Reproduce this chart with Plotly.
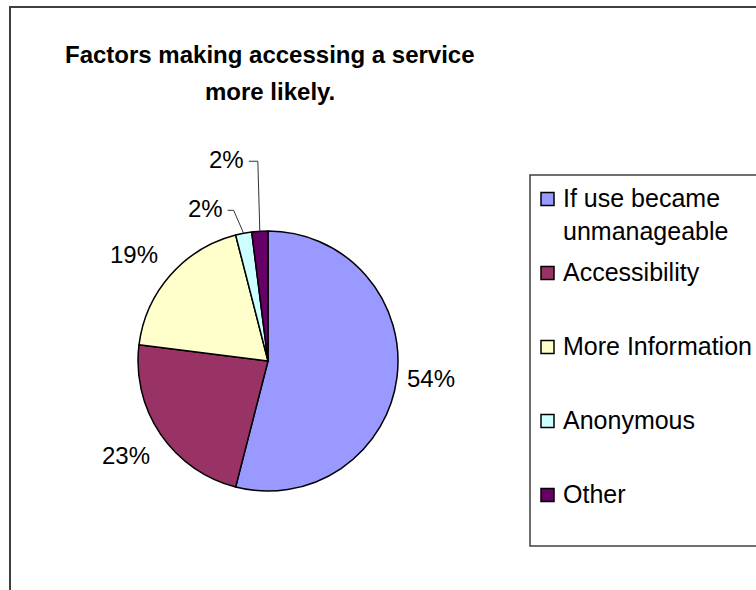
import math
import plotly.graph_objects as go

# ---- data ----
categories = ["If use became unmanageable", "Accessibility", "More Information", "Anonymous", "Other"]
legend_text = ["If use became<br>unmanageable", "Accessibility", "More Information", "Anonymous", "Other"]
percent = [54, 23, 19, 2, 2]
slice_colors = ["#9999FF", "#993366", "#FFFFCC", "#CCFFFF", "#660066"]
title_lines = ["Factors making accessing a service", "more likely."]

# ---- canvas geometry (pixels) ----
W, H = 756, 590
CX, CY, R = 268, 361, 130
FONT = "Arial, Liberation Sans, sans-serif"


def px(x):
    return x / W


def py(y):
    return 1 - y / H


def edge(angle_deg, radius):
    a = math.radians(angle_deg)
    return CX + radius * math.sin(a), CY - radius * math.cos(a)


total = sum(percent)
mids = []
acc = 0
for v in percent:
    mids.append(360 * (acc + v / 2) / total)
    acc += v

fig = go.Figure()
fig.add_trace(go.Pie(
    labels=categories,
    values=percent,
    sort=False,
    direction="clockwise",
    rotation=0,
    marker=dict(colors=slice_colors, line=dict(color="black", width=1.5)),
    textinfo="none",
    hoverinfo="label+percent",
    showlegend=False,
    domain=dict(x=[px(CX - R), px(CX + R)], y=[py(CY + R), py(CY - R)]),
))

shapes = []
annotations = []

# chart area frame and legend frame
shapes.append(dict(type="rect", xref="paper", yref="paper",
                   x0=px(10), x1=px(W + 10), y0=py(H + 10), y1=py(7),
                   line=dict(color="#404040", width=2), fillcolor="rgba(0,0,0,0)", layer="below"))
shapes.append(dict(type="rect", xref="paper", yref="paper",
                   x0=px(530), x1=px(W + 10), y0=py(546), y1=py(175),
                   line=dict(color="#404040", width=1.5), fillcolor="rgba(0,0,0,0)"))

# title
for i, line in enumerate(title_lines):
    annotations.append(dict(text="<b>%s</b>" % line, x=px(270), y=py(54 + 37 * i),
                            xref="paper", yref="paper", xanchor="center", yanchor="middle",
                            showarrow=False, font=dict(family=FONT, size=24, color="black")))

# percentage labels
label_font = dict(family=FONT, size=24, color="black")
pct_text = ["%d%%" % v for v in percent]

# large slices: label just outside the arc at the slice's mid angle
x0, y0 = edge(mids[0], R + 8)
annotations.append(dict(text=pct_text[0], x=px(x0), y=py(y0), xref="paper", yref="paper",
                        xanchor="left", yanchor="middle", showarrow=False, font=label_font))
x1, y1 = edge(mids[1], R + 10)
annotations.append(dict(text=pct_text[1], x=px(x1), y=py(y1), xref="paper", yref="paper",
                        xanchor="right", yanchor="top", showarrow=False, font=label_font))
x2, y2 = edge(mids[2], R + 8)
annotations.append(dict(text=pct_text[2], x=px(x2 - 4), y=py(y2), xref="paper", yref="paper",
                        xanchor="right", yanchor="bottom", showarrow=False, font=label_font))

# thin slices: label raised above the pie with an elbow leader line
leader_rise = {3: 23, 4: 70}
leader_shift = {3: 10, 4: 2}
leader_tick = {3: 6, 4: 9}
for i in (3, 4):
    ex, ey = edge(mids[i], R)
    elbow_x = ex - leader_shift[i]
    elbow_y = ey - leader_rise[i]
    tick_x = elbow_x - leader_tick[i]
    shapes.append(dict(type="path", xref="paper", yref="paper",
                       path="M %f,%f L %f,%f L %f,%f" % (px(tick_x), py(elbow_y), px(elbow_x), py(elbow_y), px(ex), py(ey)),
                       line=dict(color="#333333", width=1)))
    annotations.append(dict(text=pct_text[i], x=px(tick_x - 3), y=py(elbow_y - 2), xref="paper", yref="paper",
                            xanchor="right", yanchor="middle", showarrow=False, font=label_font))

# legend entries
legend_font = dict(family=FONT, size=25, color="black")
for i, name in enumerate(legend_text):
    yc = 199 + 74 * i
    shapes.append(dict(type="rect", xref="paper", yref="paper",
                       x0=px(541), x1=px(554), y0=py(yc + 6.5), y1=py(yc - 6.5),
                       line=dict(color="black", width=1.5), fillcolor=slice_colors[i]))
    annotations.append(dict(text=name, x=px(561), y=py(yc - 17), xref="paper", yref="paper",
                            xanchor="left", yanchor="top", align="left", showarrow=False,
                            font=legend_font))

fig.update_layout(
    width=W, height=H,
    margin=dict(l=0, r=0, t=0, b=0),
    paper_bgcolor="white", plot_bgcolor="white",
    shapes=shapes, annotations=annotations,
    showlegend=False,
)

fig.write_html("out.html")
